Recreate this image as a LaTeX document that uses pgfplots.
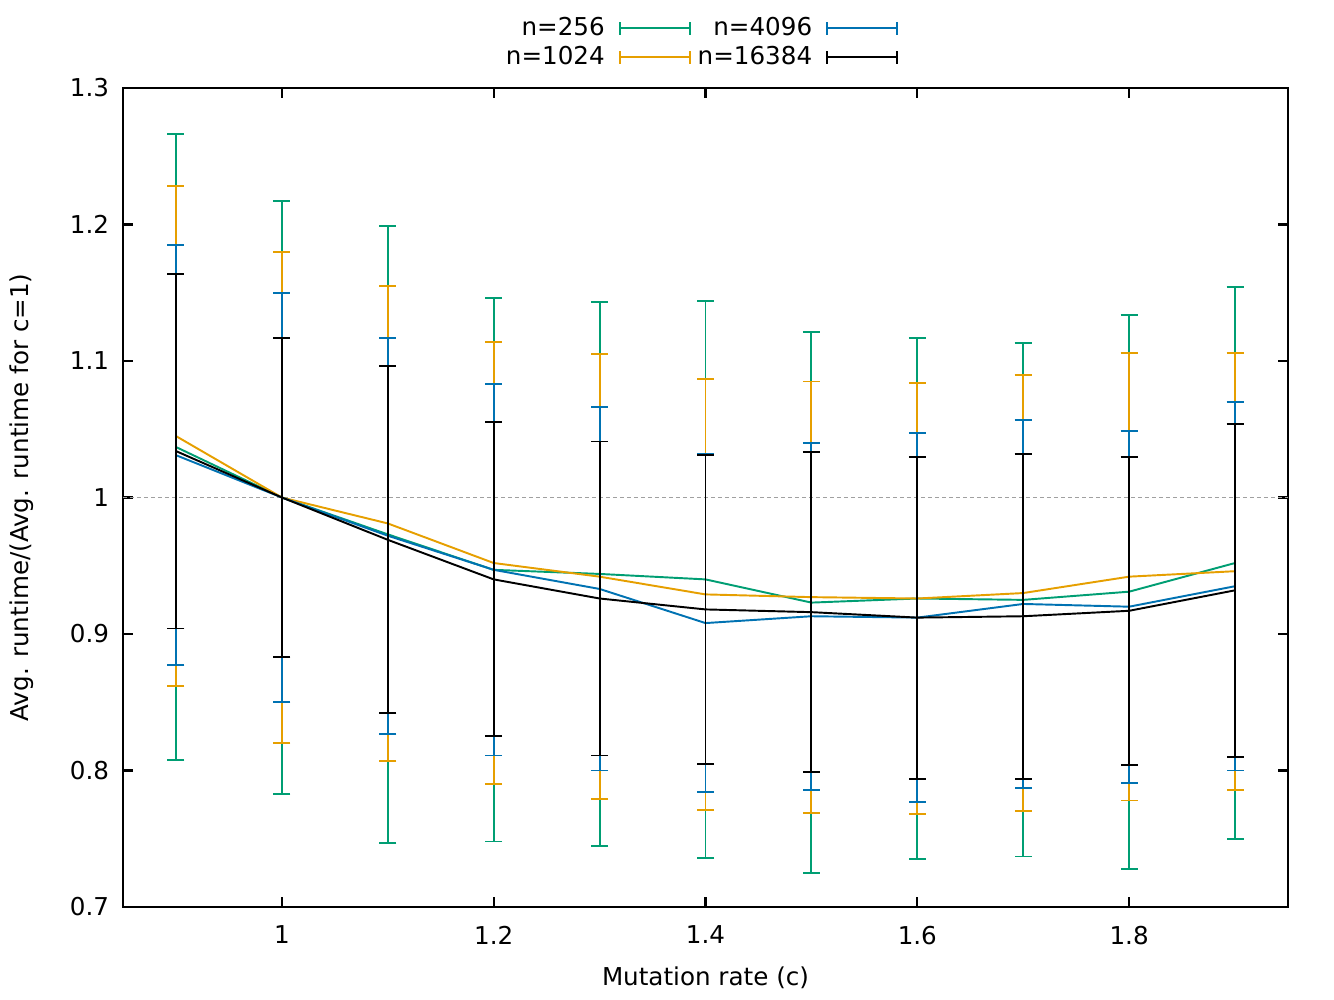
\documentclass[border=0pt]{standalone}
\usepackage{fontspec}
\setmainfont{DejaVu Sans}
\usepackage{pgfplots}
\pgfplotsset{compat=1.18}
\usepackage{pgfplotstable}
\definecolor{cgreen}{HTML}{009E73}
\definecolor{corange}{HTML}{E69F00}
\definecolor{cblue}{HTML}{0072B2}
\definecolor{cgrid}{HTML}{A0A0A0}

\pgfplotstableread{
x y e
0.9 1.037 0.229
1.0 1.000 0.217
1.1 0.973 0.226
1.2 0.947 0.199
1.3 0.944 0.199
1.4 0.940 0.204
1.5 0.923 0.198
1.6 0.926 0.191
1.7 0.925 0.188
1.8 0.931 0.203
1.9 0.952 0.202
}\tgreen
\pgfplotstableread{
x y e
0.9 1.045 0.183
1.0 1.000 0.180
1.1 0.981 0.174
1.2 0.952 0.162
1.3 0.942 0.163
1.4 0.929 0.158
1.5 0.927 0.158
1.6 0.926 0.158
1.7 0.930 0.160
1.8 0.942 0.164
1.9 0.946 0.160
}\torange
\pgfplotstableread{
x y e
0.9 1.031 0.154
1.0 1.000 0.150
1.1 0.972 0.145
1.2 0.947 0.136
1.3 0.933 0.133
1.4 0.908 0.124
1.5 0.913 0.127
1.6 0.912 0.135
1.7 0.922 0.135
1.8 0.920 0.129
1.9 0.935 0.135
}\tblue
\pgfplotstableread{
x y e
0.9 1.034 0.130
1.0 1.000 0.117
1.1 0.969 0.127
1.2 0.940 0.115
1.3 0.926 0.115
1.4 0.918 0.113
1.5 0.916 0.117
1.6 0.912 0.118
1.7 0.913 0.119
1.8 0.917 0.113
1.9 0.932 0.122
}\tblack

\pgfplotsset{
  errstyle/.style={
    #1, line width=0.55pt,
    error bars/.cd, y dir=both, y explicit,
    error bar style={#1, line width=0.55pt},
    error mark options={#1, rotate=90, line width=0.55pt, mark size=0.085cm},
  },
}

\begin{document}
\fontsize{7pt}{8.4pt}\selectfont
\begin{tikzpicture}
\begin{axis}[
  scale only axis,
  width=11.65cm, height=8.19cm,
  xmin=0.85, xmax=1.95, ymin=0.7, ymax=1.3,
  xtick={1,1.2,1.4,1.6,1.8},
  ytick={0.7,0.8,0.9,1,1.1,1.2,1.3},
  tick align=inside, tick pos=both,
  major tick length=0.1cm,
  axis line style={line width=0.6pt},
  tick style={line width=0.6pt, black},
  /pgf/number format/assume math mode=true,
  /pgf/number format/fixed,
  /pgf/number format/precision=1,
  tick label style={font=\fontsize{7pt}{8.4pt}\selectfont},
  label style={font=\fontsize{7pt}{8.4pt}\selectfont},
  yticklabel style={xshift=-0.05cm},
  xticklabel style={yshift=-0.1cm},
  xlabel={Mutation rate (c)},
  ylabel={Avg. runtime/(Avg. runtime for c=1)},
  every axis x label/.style={at={(axis description cs:0.5,-0.087)}, anchor=center},
  every axis y label/.style={at={(axis description cs:-0.087,0.5)}, anchor=center, rotate=90},
  legend columns=2, transpose legend,
  legend plot pos=right,
  legend cell align=right,
  legend style={at={(axis description cs:0.494,1)}, anchor=south, yshift=0.12cm,
    draw=none, fill=none, font=\fontsize{7pt}{8.4pt}\selectfont,
    inner sep=0pt, row sep=-0.07cm,
    /tikz/every even column/.append style={column sep=0cm},
    /tikz/every odd column/.append style={column sep=0.07cm}},
  legend image code/.code={
    \draw[#1, line width=0.55pt] (0cm,0cm) -- (0.7cm,0cm);
    \draw[#1, line width=0.55pt] (0cm,-0.065cm) -- (0cm,0.065cm);
    \draw[#1, line width=0.55pt] (0.7cm,-0.065cm) -- (0.7cm,0.065cm);
  },
]
\addplot[cgrid, line width=0.45pt, dash pattern=on 0.04cm off 0.03cm, forget plot]
  coordinates {(0.85,1) (1.95,1)};
\addplot[errstyle=cgreen] table[x=x, y=y, y error=e] {\tgreen};
\addlegendentry{n=256}
\addplot[errstyle=corange] table[x=x, y=y, y error=e] {\torange};
\addlegendentry{n=1024}
\addplot[errstyle=cblue] table[x=x, y=y, y error=e] {\tblue};
\addlegendentry{n=4096}
\addplot[errstyle=black] table[x=x, y=y, y error=e] {\tblack};
\addlegendentry{n=16384}
\end{axis}
\pgfresetboundingbox
\path (current axis.south west) ++(-1.23cm,-0.93cm) rectangle ++(13.34cm,10cm);
\end{tikzpicture}
\end{document}
